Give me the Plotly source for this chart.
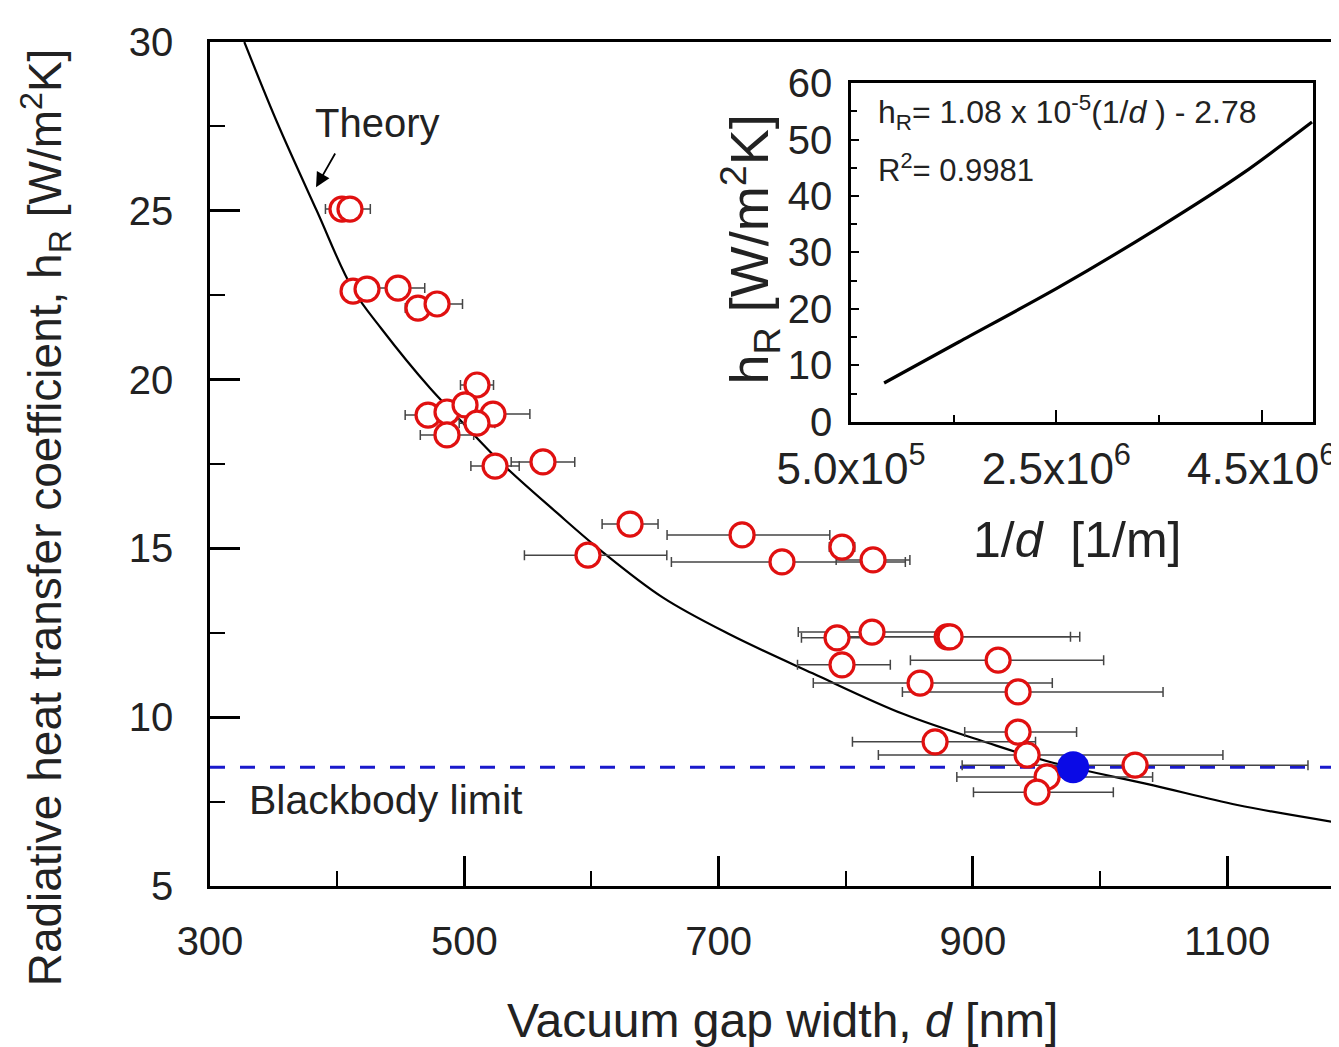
import plotly.graph_objects as go

# ---------------- data ----------------
gap_nm = [403.8, 410.1, 412.5, 423.5, 447.9, 463.6, 478.6,
          510.0, 471.5, 486.4, 500.6, 522.6, 510.0, 486.4, 524.2, 561.9,
          630.4, 718.5, 597.3, 749.9, 797.1, 821.5,
          793.2, 820.7, 879.8, 882.1, 797.1, 919.9, 858.5, 935.6,
          935.6, 870.3, 942.7, 1027.6, 958.4, 950.5]
h_r = [25.05, 25.05, 22.62, 22.68, 22.71, 22.12, 22.24,
       19.84, 18.95, 19.04, 19.25, 18.98, 18.71, 18.36, 17.44, 17.56,
       15.72, 15.40, 14.80, 14.60, 15.04, 14.66,
       12.35, 12.52, 12.38, 12.38, 11.55, 11.69, 11.01, 10.75,
       9.56, 9.27, 8.88, 8.58, 8.23, 7.78]
err_minus = [13, 8, 6, 8, 21, 10, 20,
             13, 18, 8, 8, 29, 14, 21, 19, 25,
             22, 59, 50, 87, 10, 29,
             28, 58, 82, 85, 35, 69, 84, 91,
             42, 65, 117, 136, 71, 50]
err_plus = [8, 16, 6, 8, 21, 10, 20,
            13, 18, 8, 8, 29, 14, 21, 19, 25,
            22, 69, 62, 97, 10, 29,
            30, 68, 97, 102, 38, 83, 104, 114,
            46, 79, 154, 136, 83, 60]

highlight_gap = [978.9]
highlight_h = [8.52]

blackbody_limit = 8.52

theory_gap = [327, 353, 384, 412, 435, 473, 493, 530, 573, 607,
              656, 709, 774, 845, 911, 963, 1042, 1108, 1188]
theory_h = [30.0, 27.6, 25.0, 22.7, 21.5, 19.75, 18.95, 17.5, 16.05, 14.95,
            13.55, 12.45, 11.3, 10.1, 9.25, 8.65, 7.98, 7.4, 6.87]

inset_x = [8.22e5, 1.554e6, 2.529e6, 3.505e6, 4.315e6, 4.99e6]
inset_y = [6.9, 14.2, 23.9, 34.5, 44.0, 53.1]

inset_xtickvals = [5e5, 2.5e6, 4.5e6]
inset_xticktext = ["5.0x10<sup>5</sup>", "2.5x10<sup>6</sup>", "4.5x10<sup>6</sup>"]

FONT = "Liberation Sans, Arial, sans-serif"
TXT = "#222"

fig = go.Figure()

# blackbody limit
fig.add_trace(go.Scatter(
    x=[300, 1200], y=[blackbody_limit, blackbody_limit], mode="lines",
    line=dict(color="#1a1acc", width=3, dash="15px,15px"), hoverinfo="skip",
    showlegend=False))

# theory curve
fig.add_trace(go.Scatter(
    x=theory_gap, y=theory_h, mode="lines",
    line=dict(color="black", width=2.2, shape="spline", smoothing=1),
    showlegend=False))

# measurements
fig.add_trace(go.Scatter(
    x=gap_nm, y=h_r, mode="markers",
    marker=dict(symbol="circle", size=24, color="white", line=dict(color="#e01010", width=3.2)),
    error_x=dict(type="data", symmetric=False, array=err_plus, arrayminus=err_minus,
                 color="#454545", thickness=1.5, width=5),
    showlegend=False))

fig.add_trace(go.Scatter(
    x=highlight_gap, y=highlight_h, mode="markers",
    marker=dict(symbol="circle", size=32, color="#0a0ae6"), showlegend=False))

# inset
fig.add_trace(go.Scatter(
    x=inset_x, y=inset_y, mode="lines",
    line=dict(color="black", width=3.2, shape="spline", smoothing=0.8),
    xaxis="x2", yaxis="y2", showlegend=False))

axis_common = dict(showline=True, linecolor="black", linewidth=2.5, showgrid=False,
                   zeroline=False, ticks="inside", tickcolor="black", automargin=False)

fig.update_layout(
    width=1331, height=1039,
    margin=dict(l=202, r=0, t=34, b=161, autoexpand=False),
    paper_bgcolor="white", plot_bgcolor="white",
    xaxis=dict(**axis_common, range=[300, 1188], tick0=300, dtick=200, ticklen=30, tickwidth=2.5,
               mirror=True, ticklabelstandoff=18,
               tickfont=dict(family=FONT, size=40, color=TXT),
               minor=dict(ticks="inside", dtick=100, ticklen=15, tickwidth=2, tickcolor="black")),
    yaxis=dict(**axis_common, range=[5, 30], tick0=5, dtick=5, ticklen=30, tickwidth=2.5,
               ticklabelstandoff=26,
               tickfont=dict(family=FONT, size=40, color=TXT),
               minor=dict(ticks="inside", dtick=2.5, ticklen=15, tickwidth=2, tickcolor="black")),
    xaxis2=dict(**axis_common, domain=[0.5678, 0.977], anchor="y2", range=[5e5, 5e6],
                tickvals=inset_xtickvals, ticktext=inset_xticktext, ticklen=12, tickwidth=2,
                mirror=True, ticklabelstandoff=6,
                tickfont=dict(family=FONT, size=44, color=TXT),
                minor=dict(ticks="inside", tickvals=[1.5e6, 3.5e6], ticklen=7, tickwidth=2,
                           tickcolor="black")),
    yaxis2=dict(**axis_common, domain=[0.5498, 0.9514], anchor="x2", range=[0, 60],
                dtick=10, ticklen=8, tickwidth=2, mirror=True, ticklabelstandoff=8,
                tickfont=dict(family=FONT, size=40, color=TXT),
                minor=dict(ticks="inside", dtick=5, ticklen=6, tickwidth=1.5, tickcolor="black")),
)


def note(x, y, text, size, ref="paper", angle=0, xanchor="center"):
    fig.add_annotation(x=x, y=y, xref=ref if ref == "paper" else "x",
                       yref=ref if ref == "paper" else "y", showarrow=False, text=text,
                       textangle=angle, xanchor=xanchor, yanchor="middle",
                       font=dict(family=FONT, size=size, color=TXT))


note(-0.146, 0.437, "Radiative heat transfer coefficient, h<sub>R</sub> [W/m<sup>2</sup>K]", 46,
     angle=-90)
note(0.507, -0.159, "Vacuum gap width, <i>d</i> [nm]", 48)
note(0.478, 0.7536, "h<sub>R</sub> [W/m<sup>2</sup>K]", 54, angle=-90)
note(0.768, 0.41, "1/<i>d</i>  [1/m]", 50)
note(0.590, 0.917, "h<sub>R</sub>= 1.08 x 10<sup>-5</sup>(1/<i>d</i> ) - 2.78", 32, xanchor="left")
note(0.590, 0.851, "R<sup>2</sup>= 0.9981", 31, xanchor="left")
note(431.4, 27.6, "Theory", 40, ref="data")
note(329.1, 7.55, "Blackbody limit", 41, ref="data", xanchor="left")

fig.add_annotation(x=383.4, y=25.70, ax=399.1, ay=26.74, xref="x", yref="y", axref="x", ayref="y",
                   text="", showarrow=True, arrowhead=2, arrowsize=1.6, arrowwidth=1.8,
                   arrowcolor="black")

fig.write_html("out.html")
